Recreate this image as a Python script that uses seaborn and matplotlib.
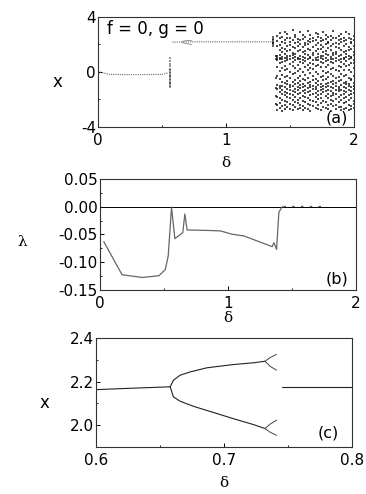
import matplotlib
matplotlib.use("Agg")
import matplotlib.pyplot as plt
import numpy as np
import pandas as pd
import seaborn as sns
from matplotlib.ticker import MultipleLocator

# ---- panel (a): bifurcation diagram over delta in [0, 2] ----
p1_delta = [0.0, 0.03, 0.08, 0.2, 0.35, 0.5, 0.53, 0.55]
p1_x = [0.05, -0.05, -0.17, -0.2, -0.2, -0.18, -0.12, -0.03]

burst1_delta = 0.5625
burst1_x = [1.0, 0.8, 0.6, 0.4, 0.2, 0.1, 0.0, -0.1, -0.2, -0.3, -0.4, -0.5,
            -0.6, -0.7, -0.8, -0.9, -1.0, -1.1]

p2_delta = [0.58, 0.62, 0.658, 0.745, 0.9, 1.1, 1.3, 1.36]
p2_x = [2.16, 2.16, 2.17, 2.18, 2.18, 2.18, 2.18, 2.18]

burst2_delta = 1.365
burst2_x = [2.5, 2.4, 2.3, 2.2, 2.1, 2.0, 1.9]

chaos_delta = [1.39, 1.40, 1.42, 1.44, 1.46, 1.48, 1.50, 1.52, 1.54, 1.56, 1.58,
               1.60, 1.62, 1.64, 1.66, 1.68, 1.70, 1.72, 1.74, 1.76, 1.78,
               1.80, 1.82, 1.84, 1.86, 1.88, 1.90, 1.92, 1.94, 1.96, 1.98, 2.00]
chaos_x = [
    [1.12, 0.93, -0.45, -1.18, -1.72, -2.31],
    [2.64, 2.21, 1.87, 1.13, 1.04, 0.88, 0.37, -0.33, -0.92, -1.27, -1.83, -2.42, -2.77],
    [2.83, 2.47, 1.96, 1.58, 1.21, 1.02, 0.91, 0.63, 0.04, -0.52, -1.06, -1.18, -1.47, -1.93, -2.28, -2.61],
    [2.52, 2.16, 1.74, 1.41, 1.09, 0.94, 0.71, 0.27, -0.21, -0.74, -1.01, -1.34, -1.62, -2.03, -2.49, -2.82],
    [2.93, 2.31, 2.12, 1.66, 1.27, 1.03, 0.82, 0.46, 0.13, -0.38, -0.81, -1.12, -1.43, -1.71, -2.14, -2.38, -2.71],
    [2.72, 2.44, 1.91, 1.53, 1.18, 0.99, 0.86, 0.19, -0.27, -0.63, -0.88, -1.24, -1.52, -1.84, -2.22, -2.57],
    [2.48, 2.17, 1.98, 1.61, 1.12, 0.92, 0.57, 0.02, -0.48, -0.93, -1.09, -1.31, -1.58, -1.87, -2.33, -2.68],
    [3.02, 2.28, 1.79, 1.37, 1.23, 1.01, 0.69, 0.42, -0.18, -0.71, -1.03, -1.41, -1.69, -2.02, -2.39, -2.79],
    [2.69, 2.53, 2.07, 1.72, 1.29, 1.08, 0.83, 0.31, -0.07, -0.58, -0.87, -1.22, -1.48, -1.81, -2.17, -2.52],
    [2.41, 2.19, 1.88, 1.49, 1.02, 0.91, 0.52, 0.08, -0.42, -0.83, -1.13, -1.28, -1.63, -2.04, -2.27, -2.73],
    [2.87, 2.34, 2.03, 1.62, 1.17, 0.97, 0.74, 0.22, -0.31, -0.69, -0.98, -1.19, -1.53, -1.91, -2.44, -2.63],
    [2.71, 2.38, 1.82, 1.43, 1.11, 0.88, 0.61, -0.03, -0.51, -0.91, -1.07, -1.39, -1.72, -2.12, -2.51, -2.76],
    [2.54, 2.09, 1.93, 1.52, 1.31, 0.99, 0.79, 0.38, -0.22, -0.61, -1.02, -1.33, -1.57, -1.79, -2.21, -2.59],
    [2.96, 2.27, 1.99, 1.68, 1.19, 0.93, 0.48, 0.12, -0.41, -0.79, -1.16, -1.49, -1.88, -2.31, -2.69],
    [2.67, 2.42, 2.18, 1.57, 1.09, 1.01, 0.68, 0.29, -0.09, -0.72, -0.92, -1.08, -1.42, -1.68, -2.01, -2.43, -2.81],
    [2.47, 2.23, 1.81, 1.39, 1.22, 0.89, 0.59, 0.18, -0.28, -0.62, -1.03, -1.27, -1.61, -2.09, -2.48],
    [2.81, 2.29, 1.97, 1.48, 1.04, 0.83, 0.41, -0.02, -0.53, -0.78, -1.11, -1.21, -1.52, -1.82, -2.19, -2.62],
    [2.73, 2.51, 2.11, 1.69, 1.28, 1.07, 0.87, 0.51, -0.17, -0.67, -0.97, -1.38, -1.71, -1.98, -2.37, -2.72],
    [2.43, 2.21, 1.92, 1.63, 1.17, 0.98, 0.72, 0.33, -0.38, -0.89, -1.12, -1.32, -1.59, -1.92, -2.28, -2.78],
    [2.89, 2.33, 1.78, 1.42, 1.12, 0.91, 0.62, 0.09, -0.29, -0.58, -1.01, -1.23, -1.48, -2.08, -2.53],
    [2.68, 2.37, 2.02, 1.51, 1.27, 1.03, 0.78, 0.39, -0.11, -0.49, -0.91, -1.09, -1.37, -1.73, -2.18, -2.64],
    [2.52, 2.18, 2.08, 1.71, 1.21, 0.87, 0.53, 0.01, -0.39, -0.82, -0.99, -1.29, -1.62, -1.89, -2.41, -2.71],
    [2.62, 2.29, 1.89, 1.58, 1.08, 0.96, 0.69, 0.23, -0.19, -0.72, -1.08, -1.42, -1.78, -2.03, -2.32, -2.83],
    [2.98, 2.48, 1.99, 1.38, 1.19, 0.92, 0.63, 0.28, -0.32, -0.63, -0.89, -1.18, -1.51, -1.68, -2.11, -2.49],
    [2.44, 2.13, 1.83, 1.47, 1.29, 1.02, 0.81, 0.13, -0.48, -0.81, -1.03, -1.31, -1.64, -1.97, -2.38, -2.67],
    [2.61, 2.32, 2.01, 1.72, 1.13, 0.89, 0.43, 0.03, -0.37, -0.68, -1.09, -1.22, -1.41, -1.83, -2.22, -2.58],
    [2.77, 2.39, 2.19, 1.59, 1.22, 0.97, 0.71, 0.32, -0.12, -0.59, -0.98, -1.28, -1.69, -2.07, -2.52, -2.79],
    [2.49, 2.22, 1.87, 1.43, 1.03, 0.91, 0.58, 0.17, -0.27, -0.79, -1.12, -1.39, -1.61, -1.91, -2.29, -2.68],
    [2.91, 2.31, 2.04, 1.52, 1.28, 1.09, 0.79, 0.41, -0.21, -0.71, -0.91, -1.19, -1.49, -1.81, -2.19, -2.61],
    [2.72, 2.49, 1.81, 1.61, 1.18, 0.93, 0.49, 0.11, -0.43, -0.88, -1.02, -1.33, -1.68, -2.02, -2.42, -2.77],
    [2.42, 2.19, 2.07, 1.69, 1.11, 0.99, 0.68, -0.01, -0.52, -0.61, -1.08, -1.41, -1.58, -1.88, -2.47, -2.71],
    [2.63, 2.28, 1.91, 1.41, 1.21, 0.88, 0.61, 0.29, -0.31, -0.78, -1.01, -1.21, -1.52, -2.09, -2.31, -2.62],
]

# ---- panel (b): Lyapunov exponent ----
lam_delta = [0.03, 0.173, 0.33, 0.46, 0.51, 0.533, 0.559, 0.585, 0.647, 0.663,
             0.681, 0.863, 0.94, 1.033, 1.124, 1.345, 1.358, 1.379, 1.397, 1.423]
lam_vals = [-0.063, -0.1226, -0.1275, -0.1244, -0.1135, -0.089, -0.001, -0.0576,
            -0.0467, -0.0133, -0.042, -0.043, -0.0437, -0.0497, -0.0528, -0.072,
            -0.065, -0.077, -0.0103, 0.0]
lam_tail_delta = [1.43, 1.50, 1.58, 1.66, 1.74]
lam_tail_vals = [0.001, 0.001, 0.001, 0.001, 0.001]

# ---- panel (c): zoom of the period-doubling window ----
left_delta = [0.6, 0.63, 0.658]
left_x = [2.163, 2.170, 2.176]
up_delta = [0.658, 0.6605, 0.6657, 0.6735, 0.6866, 0.7074, 0.723, 0.732]
up_x = [2.176, 2.206, 2.229, 2.244, 2.263, 2.278, 2.286, 2.293]
lo_delta = [0.658, 0.6605, 0.6657, 0.676, 0.692, 0.7074, 0.723, 0.732]
lo_x = [2.176, 2.130, 2.110, 2.087, 2.058, 2.030, 2.003, 1.985]
fork_delta = [0.732, 0.736, 0.741]
fork_uu = [2.293, 2.310, 2.324]
fork_ul = [2.293, 2.270, 2.252]
fork_lu = [1.985, 2.005, 2.023]
fork_ll = [1.985, 1.968, 1.954]
right_delta = [0.745, 0.8]
right_x = [2.176, 2.176]

sns.set_theme(style="ticks")
plt.rcParams["font.family"] = ["DejaVu Sans"]
plt.rcParams["axes.unicode_minus"] = False
plt.rcParams["xtick.direction"] = "in"
plt.rcParams["ytick.direction"] = "in"
plt.rcParams["axes.linewidth"] = 0.8
for key in ("text.color", "axes.labelcolor", "xtick.color", "ytick.color"):
    plt.rcParams[key] = "black"

fig = plt.figure(figsize=(3.66, 4.94), dpi=100)
ax_a = fig.add_axes([0.268, 0.743, 0.699, 0.223])
ax_b = fig.add_axes([0.273, 0.413, 0.700, 0.225])
ax_c = fig.add_axes([0.262, 0.095, 0.700, 0.221])

# panel (a)
sns.lineplot(x=p1_delta, y=p1_x, ax=ax_a, color="#666666", lw=0.8, ls=(0, (1, 1)))
sns.scatterplot(x=[burst1_delta] * len(burst1_x), y=burst1_x, ax=ax_a,
                marker="s", s=1.2, color="black", alpha=0.4, linewidth=0)
sns.lineplot(x=p2_delta, y=p2_x, ax=ax_a, color="#666666", lw=0.8, ls=(0, (1, 1)))
for xs in (up_x, lo_x):
    sns.lineplot(x=up_delta, y=xs, ax=ax_a, color="#888888", lw=0.6)
sns.scatterplot(x=[burst2_delta] * len(burst2_x), y=burst2_x, ax=ax_a,
                marker="s", s=1.2, color="black", alpha=0.6, linewidth=0)
cd, cx = [], []
for d, col in zip(chaos_delta, chaos_x):
    cd.extend([d] * len(col))
    cx.extend(col)
chaos = pd.DataFrame({"delta": cd, "x": cx})
sns.scatterplot(data=chaos, x="delta", y="x", ax=ax_a, marker="s", s=2.5,
                color="black", linewidth=0, alpha=0.7)
ax_a.set_xlim(0, 2)
ax_a.set_ylim(-4, 4)
ax_a.xaxis.set_major_locator(MultipleLocator(1))
ax_a.xaxis.set_minor_locator(MultipleLocator(0.5))
ax_a.yaxis.set_major_locator(MultipleLocator(4))
ax_a.yaxis.set_minor_locator(MultipleLocator(2))
ax_a.text(0.035, 0.84, "f = 0, g = 0", transform=ax_a.transAxes, fontsize=12)
ax_a.text(0.975, 0.04, "(a)", transform=ax_a.transAxes, fontsize=11.5, ha="right")

# panel (b)
ax_b.axhline(0, color="black", lw=0.7)
sns.lineplot(x=lam_delta, y=lam_vals, ax=ax_b, color="#666666", lw=0.9)
sns.lineplot(x=lam_tail_delta, y=lam_tail_vals, ax=ax_b, color="#555555",
             lw=0.9, ls=(0, (2, 5)))
ax_b.set_xlim(0, 2)
ax_b.set_ylim(-0.15, 0.05)
ax_b.xaxis.set_major_locator(MultipleLocator(1))
ax_b.xaxis.set_minor_locator(MultipleLocator(0.5))
ax_b.yaxis.set_major_locator(MultipleLocator(0.05))
ax_b.yaxis.set_minor_locator(MultipleLocator(0.025))
ax_b.yaxis.set_major_formatter(lambda v, p: f"{v:.2f}")
ax_b.text(0.97, 0.06, "(b)", transform=ax_b.transAxes, fontsize=11.5, ha="right")

# panel (c)
line_kw = dict(ax=ax_c, color="#222222", lw=0.8)
sns.lineplot(x=left_delta, y=left_x, **line_kw)
sns.lineplot(x=up_delta, y=up_x, **line_kw)
sns.lineplot(x=lo_delta, y=lo_x, **line_kw)
for ys in (fork_uu, fork_ul, fork_lu, fork_ll):
    sns.lineplot(x=fork_delta, y=ys, ax=ax_c, color="#444444", lw=0.7)
sns.lineplot(x=right_delta, y=right_x, **line_kw)
ax_c.set_xlim(0.6, 0.8)
ax_c.set_ylim(1.9, 2.4)
ax_c.xaxis.set_major_locator(MultipleLocator(0.1))
ax_c.xaxis.set_minor_locator(MultipleLocator(0.05))
ax_c.yaxis.set_major_locator(MultipleLocator(0.2))
ax_c.yaxis.set_minor_locator(MultipleLocator(0.1))
ax_c.yaxis.set_major_formatter(lambda v, p: f"{v:.1f}")
ax_c.xaxis.set_major_formatter(lambda v, p: f"{v:.1f}")
ax_c.text(0.95, 0.09, "(c)", transform=ax_c.transAxes, fontsize=11.5, ha="right")

for ax in (ax_a, ax_b, ax_c):
    ax.tick_params(which="major", length=3, width=0.7, labelsize=11, pad=1.5)
    ax.tick_params(axis="x", which="major", pad=4)
    ax.tick_params(which="minor", length=1.5, width=0.6)
    ax.tick_params(axis="x", which="both", top=False)
    ax.tick_params(axis="y", which="both", right=False)
    for s in ax.spines.values():
        s.set_color("#333333")

serif = ["DejaVu Serif"]
ax_a.set_xlabel("δ", family=serif, fontsize=11, labelpad=6)
ax_a.set_ylabel("x", fontsize=12, rotation=0, va="center", ha="center")
ax_a.yaxis.set_label_coords(-0.16, 0.41)
ax_b.set_xlabel("δ", family=serif, fontsize=11, labelpad=0)
ax_b.set_ylabel("λ", family=serif, fontsize=11, rotation=0, va="center", ha="center")
ax_b.yaxis.set_label_coords(-0.305, 0.43)
ax_c.set_xlabel("δ", family=serif, fontsize=11, labelpad=6)
ax_c.set_ylabel("x", fontsize=12, rotation=0, va="center", ha="center")
ax_c.yaxis.set_label_coords(-0.2, 0.40)

fig.savefig("out.png", dpi=100)
